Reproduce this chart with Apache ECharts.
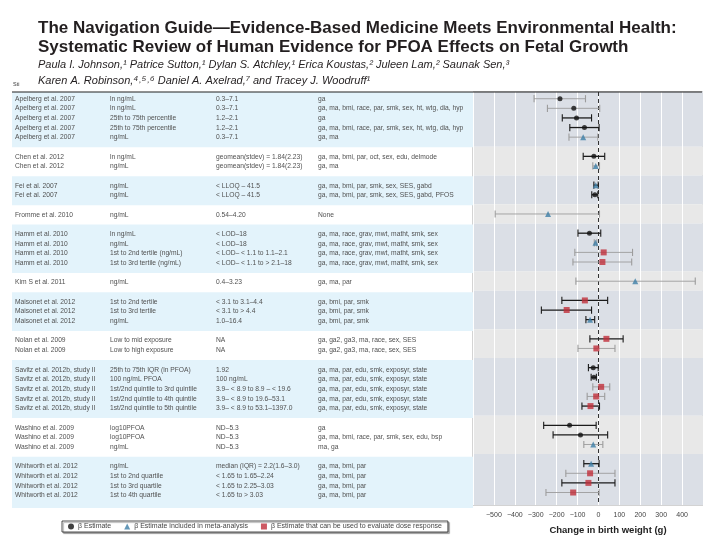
<!DOCTYPE html>
<html><head><meta charset="utf-8">
<script src="https://cdn.jsdelivr.net/npm/echarts@6/dist/echarts.min.js"></script>
<style>html,body{margin:0;padding:0;background:#fff}#c{width:720px;height:540px}</style>
</head><body><div id="c"></div>
<script>
// ---------- data ----------
const studies = [
 'Apelberg et al. 2007','Apelberg et al. 2007','Apelberg et al. 2007','Apelberg et al. 2007','Apelberg et al. 2007',
 'Chen et al. 2012','Chen et al. 2012',
 'Fei et al. 2007','Fei et al. 2007',
 'Fromme et al. 2010',
 'Hamm et al. 2010','Hamm et al. 2010','Hamm et al. 2010','Hamm et al. 2010',
 'Kim S et al. 2011',
 'Maisonet et al. 2012','Maisonet et al. 2012','Maisonet et al. 2012',
 'Nolan et al. 2009','Nolan et al. 2009',
 'Savitz et al. 2012b, study II','Savitz et al. 2012b, study II','Savitz et al. 2012b, study II','Savitz et al. 2012b, study II','Savitz et al. 2012b, study II',
 'Washino et al. 2009','Washino et al. 2009','Washino et al. 2009',
 'Whitworth et al. 2012','Whitworth et al. 2012','Whitworth et al. 2012','Whitworth et al. 2012'
];
const exposures = [
 'ln ng/mL','ln ng/mL','25th to 75th percentile','25th to 75th percentile','ng/mL',
 'ln ng/mL','ng/mL',
 'ng/mL','ng/mL',
 'ng/mL',
 'ln ng/mL','ng/mL','1st to 2nd tertile (ng/mL)','1st to 3rd tertile (ng/mL)',
 'ng/mL',
 '1st to 2nd tertile','1st to 3rd tertile','ng/mL',
 'Low to mid exposure','Low to high exposure',
 '25th to 75th IQR (ln PFOA)','100 ng/mL PFOA','1st/2nd quintile to 3rd quintile','1st/2nd quintile to 4th quintile','1st/2nd quintile to 5th quintile',
 'log10PFOA','log10PFOA','ng/mL',
 'ng/mL','1st to 2nd quartile','1st to 3rd quartile','1st to 4th quartile'
];
const ranges = [
 '0.3\u20137.1','0.3\u20137.1','1.2\u20132.1','1.2\u20132.1','0.3\u20137.1',
 'geomean(stdev) = 1.84(2.23)','geomean(stdev) = 1.84(2.23)',
 '< LLOQ \u2013 41.5','< LLOQ \u2013 41.5',
 '0.54\u20134.20',
 '< LOD\u201318','< LOD\u201318','< LOD\u2013 < 1.1 to 1.1\u20132.1','< LOD\u2013 < 1.1 to > 2.1\u201318',
 '0.4\u20133.23',
 '< 3.1 to 3.1\u20134.4','< 3.1 to > 4.4','1.0\u201316.4',
 'NA','NA',
 '1.92','100 ng/mL','3.9\u2013 < 8.9 to 8.9 \u2013 < 19.6','3.9\u2013 < 8.9 to 19.6\u201353.1','3.9\u2013 < 8.9 to 53.1\u20131397.0',
 'ND\u20135.3','ND\u20135.3','ND\u20135.3',
 'median (IQR) = 2.2(1.6\u20133.0)','< 1.65 to 1.65\u20132.24','< 1.65 to 2.25\u20133.03','< 1.65 to > 3.03'
];
const covariates = [
 'ga','ga, ma, bmi, race, par, smk, sex, ht, wtg, dia, hyp','ga','ga, ma, bmi, race, par, smk, sex, ht, wtg, dia, hyp','ga, ma',
 'ga, ma, bmi, par, oct, sex, edu, delmode','ga, ma',
 'ga, ma, bmi, par, smk, sex, SES, gabd','ga, ma, bmi, par, smk, sex, SES, gabd, PFOS',
 'None',
 'ga, ma, race, grav, mwt, matht, smk, sex','ga, ma, race, grav, mwt, matht, smk, sex','ga, ma, race, grav, mwt, matht, smk, sex','ga, ma, race, grav, mwt, matht, smk, sex',
 'ga, ma, par',
 'ga, bmi, par, smk','ga, bmi, par, smk','ga, bmi, par, smk',
 'ga, ga2, ga3, ma, race, sex, SES','ga, ga2, ga3, ma, race, sex, SES',
 'ga, ma, par, edu, smk, exposyr, state','ga, ma, par, edu, smk, exposyr, state','ga, ma, par, edu, smk, exposyr, state','ga, ma, par, edu, smk, exposyr, state','ga, ma, par, edu, smk, exposyr, state',
 'ga','ga, ma, bmi, race, par, smk, sex, edu, bsp','ma, ga',
 'ga, ma, bmi, par','ga, ma, bmi, par','ga, ma, bmi, par','ga, ma, bmi, par'
];
const estimates = [-184,-118,-105,-67,-73, -22,-13, -13,-17, -241, -43,-14,25,19, 176, -65,-152,-40, 38,-10, -25,-22,13,-11,-38, -138,-86,-25, -35,-40,-48,-121];
const ciLow     = [-308,-244,-173,-137,-141, -73,-27, -22,-32, -494, -98,-20,-113,-122, -108, -175,-273,-60, -41,-98, -48,-35,-27,-54,-79, -262,-217,-70, -70,-156,-175,-251];
const ciHigh    = [-62,6,-33,3,-3, 30,5, -1,-3, 5, 11,-8,163,159, 463, 44,-33,-18, 118,79, -1,-10,54,30,5, -11,44,21, 3,79,79,3];
// b = β estimate, m = included in meta-analysis, d = dose response
const markerType = ['b','b','b','b','m', 'b','m', 'm','b', 'm', 'b','m','d','d', 'm', 'd','d','m', 'd','d', 'b','b','d','d','d', 'b','b','m', 'm','d','d','d'];
// k = dark CI, g = grey CI
const ciTone = ['g','g','k','k','g', 'k','g', 'k','k', 'g', 'k','g','g','g', 'g', 'k','k','k', 'k','g', 'k','k','g','g','k', 'k','k','g', 'k','g','k','g'];
const legendNames = ['\u03b2 Estimate','\u03b2 Estimate included in meta-analysis','\u03b2 Estimate that can be used to evaluate dose response'];
const xTicks = [-500,-400,-300,-200,-100,0,100,200,300,400];

// ---------- layout of rows (one blank slot between studies) ----------
const slots = []; const groups = [];
let s = -1;
studies.forEach((st, i) => {
  if (i === 0 || st !== studies[i-1]) {
    if (i > 0) s += 1;
    groups.push({first: s + 1, last: s + 1});
  }
  s += 1; slots.push(s);
  groups[groups.length-1].last = s;
});
const yMin = -0.7, yMax = slots[slots.length-1] + 1.3;
const bandData = groups.map((g, i) => [
  i === 0 ? yMin : g.first - 1,
  i === groups.length-1 ? yMax : g.last + 1,
  i % 2
]);

const SANS = '"Liberation Sans", Arial, sans-serif';
const chart = echarts.init(document.getElementById('c'), null, {renderer:'canvas'});
const markerCfg = {
  b: {symbol:'circle', size:5, color:'#111'},
  m: {symbol:'triangle', size:6, color:'#3d7ea6'},
  d: {symbol:'rect', size:6, color:'#c1303b'}
};
const types = ['b','m','d'];

const option = {
  animation:false,
  grid:[
    {left:473, width:230, top:92, height:416, show:true, borderColor:'#a8a8a8', borderWidth:1, backgroundColor:'transparent'},
    {left:12, width:461, top:92, height:416}
  ],
  xAxis:[
    {gridIndex:0, type:'value', min:-600, max:500, interval:100, z:1,
     axisLine:{show:false}, axisTick:{show:false},
     splitLine:{show:true, lineStyle:{color:'#ffffff', width:1}},
     axisLabel:{fontSize:7, color:'#444', margin:7, fontFamily:SANS,
       formatter:v => xTicks.indexOf(v) < 0 ? '' : String(v).replace('-', '\u2212')},
     name:'Change in birth weight (g)', nameLocation:'middle', nameGap:20,
     nameTextStyle:{fontSize:9.5, fontWeight:'bold', color:'#222', fontFamily:SANS, padding:[0,0,0,40]}},
    {gridIndex:1, type:'value', min:0, max:461, show:false}
  ],
  yAxis:[
    {gridIndex:0, type:'value', min:yMin, max:yMax, inverse:true, show:false},
    {gridIndex:1, type:'value', min:yMin, max:yMax, inverse:true, show:false}
  ],
  legend:{
    left:62, top:521, itemWidth:6, itemHeight:6, itemGap:13, padding:[2,6],
    borderColor:'#222', borderWidth:0.8, backgroundColor:'#fff',
    shadowColor:'rgba(0,0,0,0.35)', shadowOffsetX:1.5, shadowOffsetY:1.5, shadowBlur:1,
    textStyle:{fontSize:7, color:'#444', fontFamily:SANS, padding:[0,0,0,-1]},
    data:[
      {name:legendNames[0], icon:'circle'},
      {name:legendNames[1], icon:'triangle'},
      {name:legendNames[2], icon:'rect'}
    ]
  },
  graphic:[
    {type:'text', left:38, top:19.5, style:{text:'The Navigation Guide\u2014Evidence-Based Medicine Meets Environmental Health:', font:'bold 17px ' + SANS, fill:'#231f20'}},
    {type:'text', left:38, top:39, style:{text:'Systematic Review of Human Evidence for PFOA Effects on Fetal Growth', font:'bold 17px ' + SANS, fill:'#231f20'}},
    {type:'text', left:38, top:59.5, style:{text:'Paula I. Johnson,\u00b9 Patrice Sutton,\u00b9 Dylan S. Atchley,\u00b9 Erica Koustas,\u00b2 Juleen Lam,\u00b2 Saunak Sen,\u00b3', font:'italic 11px ' + SANS, fill:'#231f20'}},
    {type:'text', left:38, top:75, style:{text:'Karen A. Robinson,\u2074\u02d2\u2075\u02d2\u2076 Daniel A. Axelrad,\u2077 and Tracey J. Woodruff\u00b9', font:'italic 11px ' + SANS, fill:'#231f20'}},
    {type:'text', left:13, top:81, style:{text:'Sti', font:'5.5px ' + SANS, fill:'#333'}},
    {type:'line', shape:{x1:12, y1:92, x2:702, y2:92}, style:{stroke:'#222', lineWidth:1.2}, z:50}
  ],
  series:[
    // background bands, table side
    {type:'custom', xAxisIndex:1, yAxisIndex:1, z:0, silent:true, data:bandData,
     encode:{y:[0,1]},
     renderItem:(p, api) => {
       if (api.value(2) === 1) return null;
       const cs = p.coordSys;
       const y0 = api.coord([0, api.value(0)])[1], y1 = api.coord([0, api.value(1)])[1];
       return {type:'rect', shape:{x:cs.x, y:y0, width:cs.width, height:y1-y0}, style:{fill:'#e3f3fb'}};
     }},
    // background bands, plot side
    {type:'custom', xAxisIndex:0, yAxisIndex:0, z:0, silent:true, data:bandData,
     encode:{y:[0,1]},
     renderItem:(p, api) => {
       const cs = p.coordSys;
       const y0 = api.coord([0, api.value(0)])[1], y1 = api.coord([0, api.value(1)])[1];
       return {type:'rect', shape:{x:cs.x, y:y0, width:cs.width, height:y1-y0},
               style:{fill: api.value(2) === 1 ? '#e8e8e8' : '#dbdfe6'}};
     }},
    // table text
    {type:'custom', xAxisIndex:1, yAxisIndex:1, z:5, silent:true,
     data:slots.map((sl, i) => [sl, i]), encode:{y:0},
     renderItem:(p, api) => {
       const cs = p.coordSys; const i = api.value(1);
       const y = api.coord([0, api.value(0)])[1];
       const st = {fontSize:6.7, fontFamily:SANS, fill:'#505050', textVerticalAlign:'middle'};
       const cols = [[3, studies[i]], [98, exposures[i]], [204, ranges[i]], [306, covariates[i]]];
       return {type:'group', children: cols.map(c => ({type:'text', x:cs.x + c[0], y:y,
         style:Object.assign({text:c[1]}, st)}))};
     }},
    // confidence intervals
    {type:'custom', xAxisIndex:0, yAxisIndex:0, z:6, silent:true,
     data:slots.map((sl, i) => [ciLow[i], ciHigh[i], sl, ciTone[i] === 'k' ? 1 : 0]),
     encode:{x:[0,1], y:2},
     renderItem:(p, api) => {
       const lo = api.coord([api.value(0), api.value(2)]);
       const hi = api.coord([api.value(1), api.value(2)]);
       const dark = api.value(3) === 1;
       const color = dark ? '#1b1b1b' : '#9c9c9c';
       const h = 3.6;
       return {type:'group', children:[
         {type:'line', shape:{x1:lo[0], y1:lo[1], x2:hi[0], y2:hi[1]}, style:{stroke:color, lineWidth:dark ? 1.3 : 0.9}},
         {type:'line', shape:{x1:lo[0], y1:lo[1]-h, x2:lo[0], y2:lo[1]+h}, style:{stroke:color, lineWidth:1.1}},
         {type:'line', shape:{x1:hi[0], y1:hi[1]-h, x2:hi[0], y2:hi[1]+h}, style:{stroke:color, lineWidth:1.1}}
       ]};
     }},
    // point estimates
    ...types.map((t, k) => ({
      type:'scatter', name:legendNames[k], xAxisIndex:0, yAxisIndex:0, z:8,
      symbol:markerCfg[t].symbol, symbolSize:markerCfg[t].size,
      itemStyle:{color:markerCfg[t].color},
      data:slots.map((sl, i) => markerType[i] === t ? [estimates[i], sl] : null).filter(d => d),
      markLine: k === 0 ? {symbol:'none', silent:true, label:{show:false},
        lineStyle:{type:[4,3], color:'#333', width:1}, data:[{xAxis:0}]} : undefined
    }))
  ]
};
chart.setOption(option);
</script>
</body></html>
